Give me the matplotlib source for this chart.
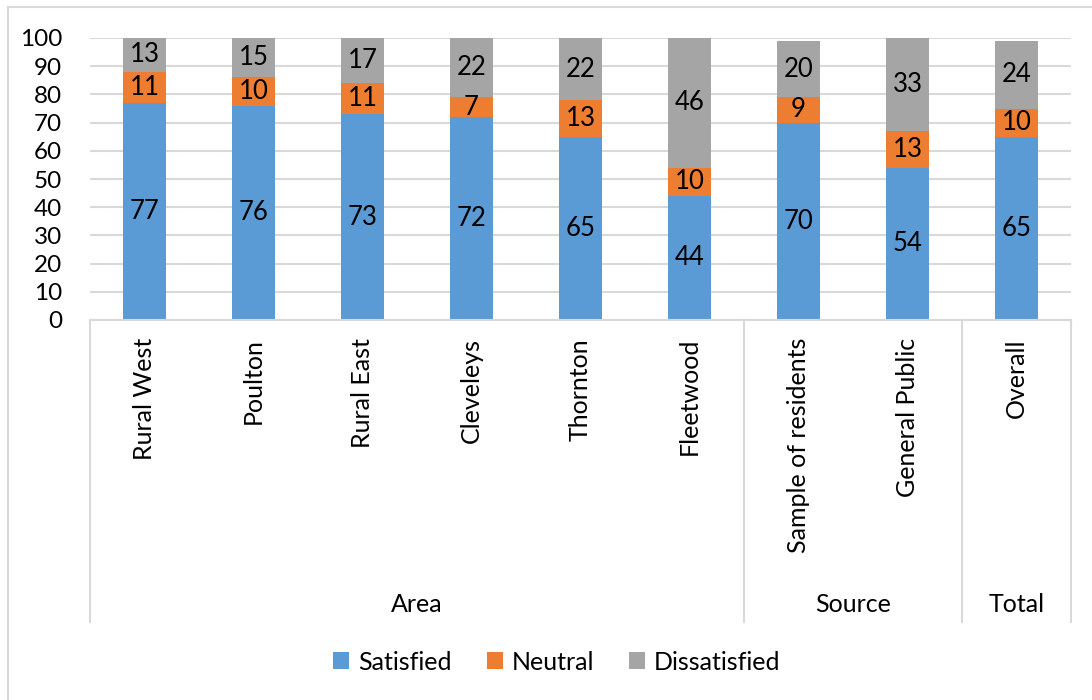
import numpy as np
import matplotlib.pyplot as plt
import matplotlib.transforms as mtransforms
from matplotlib.patches import Rectangle

# satisfaction by area / source / total (percent)
categories = ["Rural West", "Poulton", "Rural East", "Cleveleys", "Thornton",
              "Fleetwood", "Sample of residents", "General Public", "Overall"]
satisfied = [77, 76, 73, 72, 65, 44, 70, 54, 65]
neutral = [11, 10, 11, 7, 13, 10, 9, 13, 10]
dissatisfied = [13, 15, 17, 22, 22, 46, 20, 33, 24]
groups = ["Area", "Source", "Total"]
group_sizes = [6, 2, 1]

plt.rcParams['font.family'] = ['Lato', 'DejaVu Sans']

fig = plt.figure(figsize=(10.92, 7), dpi=100)
ax = fig.add_axes([90/1092, 1 - 320/700, 981/1092, 282/700])

x = np.arange(len(categories))
w = 0.395
s = np.array(satisfied)
n = np.array(neutral)
d = np.array(dissatisfied)

series = [(s, 0, "Satisfied", "#5B9BD5"),
          (n, s, "Neutral", "#ED7D31"),
          (d, s + n, "Dissatisfied", "#A5A5A5")]
for vals, base, name, col in series:
    bars = ax.bar(x, vals, w, bottom=base, color=col, label=name, zorder=2)
    ax.bar_label(bars, labels=[str(v) for v in vals], label_type='center',
                 fontsize=18.5, color='black')

ax.set_ylim(0, 100)
ax.set_xlim(-0.5, len(categories) - 0.5)
ax.set_yticks(range(0, 101, 10))
ax.yaxis.grid(True, color='#d9d9d9', linewidth=1.5, zorder=0)
ax.set_axisbelow(True)
for sp in ['top', 'right', 'left']:
    ax.spines[sp].set_visible(False)
ax.spines['bottom'].set_color('#d9d9d9')
ax.spines['bottom'].set_linewidth(1.5)
ax.tick_params(axis='y', length=0, labelsize=17.5, pad=20)
ax.tick_params(axis='x', length=0, labelsize=18, pad=13)
ax.set_xticks(x)
ax.set_xticklabels(categories, rotation=90, va='top')

# multi-level category axis: separators and group names
trans = mtransforms.blended_transform_factory(ax.transData, fig.transFigure)
edges = np.concatenate([[0], np.cumsum(group_sizes)]) - 0.5
for e in edges:
    ax.plot([e, e], [1 - 320/700, 1 - 622/700], color='#d9d9d9', lw=1.5,
            transform=trans, clip_on=False)
for g, a, b in zip(groups, edges[:-1], edges[1:]):
    ax.text((a + b) / 2, 1 - 605/700, g, transform=trans, ha='center',
            va='center', fontsize=18)

fig.legend(loc='center', bbox_to_anchor=(0.51, 1 - 662/700), ncol=3,
           frameon=False, fontsize=18, handlelength=0.65, handleheight=0.65,
           columnspacing=1.4, handletextpad=0.35)

# chart border
fig.add_artist(Rectangle((8/1092, -0.05), 1.1, 1 - 7/700 + 0.05,
                         transform=fig.transFigure, fill=False,
                         edgecolor='#d9d9d9', lw=1.5))

fig.savefig("out.png", dpi=100)
